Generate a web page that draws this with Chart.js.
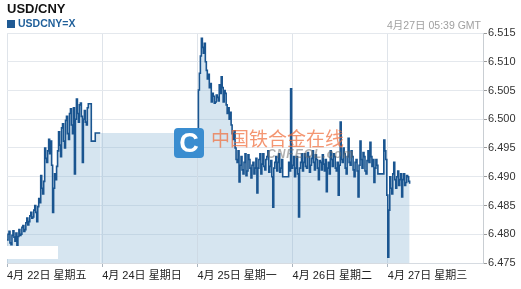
<!DOCTYPE html>
<html>
<head>
<meta charset="utf-8">
<script src="https://cdn.jsdelivr.net/npm/chart.js@4"></script>
<style>
  body { margin: 0; background: #fff; }
  #wrap { position: relative; width: 521px; height: 289px; font-family: "Liberation Sans", Arial, sans-serif; }
  #title { position: absolute; left: 7px; top: 1px; font-size: 13px; font-weight: bold; color: #111; }
  #legend { position: absolute; left: 7px; top: 17px; font-size: 10.5px; font-weight: bold; color: #1f5f9a; }
  #legend span { display: inline-block; width: 8px; height: 8px; background: #1f5a94; margin-right: 3px; vertical-align: -1px; }
  #stamp { position: absolute; right: 40px; top: 17px; font-size: 10.5px; color: #a0a0a0; font-family: "Liberation Sans", "Noto Sans CJK SC", sans-serif; }
  .wm { position: absolute; pointer-events: none; }
  #logo { left: 174px; top: 128px; width: 30px; height: 30px; border-radius: 4px; background: #3a8dd0; color: #fff;
          font: bold 27px "Liberation Sans", Arial, sans-serif; text-align: center; line-height: 30px; }
  #wmText { left: 211px; top: 124px; font: 19px "Noto Sans CJK SC", sans-serif; color: rgba(240,110,60,0.72); }
  #wmSub { left: 267px; top: 147px; font: italic bold 12px "Liberation Sans", Arial, sans-serif; color: rgba(110,110,110,0.55); letter-spacing: 1px; }
  #blot { left: 7px; top: 246px; width: 51px; height: 13px; background: #fff; }
</style>
</head>
<body>
<div id="wrap">
  <canvas id="fxChart" width="521" height="289"></canvas>
  <div id="title">USD/CNY</div>
  <div id="legend"><span></span>USDCNY=X</div>
  <div id="stamp">4月27日 05:39 GMT</div>
  <div class="wm" id="logo">C</div>
  <div class="wm" id="wmText">中国铁合金在线</div>
  <div class="wm" id="wmSub">CNFEOL.com</div>
  <div class="wm" id="blot"></div>
</div>
<script>
// quotes sampled every quarter hour, one array per trading day
const stepHours = 0.25;
const dayStarts = [0, 48, 72, 96];

const friday = [
  6.4790, 6.4800, 6.4805, 6.4785, 6.4782, 6.4798, 6.4806, 6.4795, 6.4788, 6.4802,
  6.4778, 6.4796, 6.4808, 6.4798, 6.4800, 6.4812, 6.4815, 6.4805, 6.4808, 6.4820,
  6.4828, 6.4816, 6.4822, 6.4832, 6.4838, 6.4828, 6.4830, 6.4842, 6.4850, 6.4838,
  6.4822, 6.4848, 6.4862, 6.4855, 6.4902, 6.4880, 6.4870, 6.4892, 6.4950, 6.4932,
  6.4925, 6.4945, 6.4965, 6.4940, 6.4962, 6.4920, 6.4838, 6.4880, 6.4905, 6.4895,
  6.4918, 6.4945, 6.4978, 6.4955, 6.4935, 6.4985, 6.4992, 6.4962, 6.4950, 6.4998,
  6.5005, 6.4975, 6.4965, 6.5010, 6.5018, 6.4990, 6.4975, 6.5020, 6.4905, 6.5000,
  6.5035, 6.5010, 6.4995, 6.5025, 6.5028, 6.5005, 6.4925, 6.5000, 6.5015, 6.4995,
  6.4990, 6.5020, 6.5027, 6.5027, 6.5027, 6.4962, 6.4962, 6.4962, 6.4962, 6.4976,
  6.4976, 6.4976, 6.4976, 6.4976, 6.4976
];
const monday = [
  6.4976, 6.5051, 6.5080, 6.5110, 6.5141, 6.5125, 6.5115, 6.5132, 6.5100, 6.5085,
  6.5070, 6.5078, 6.5055, 6.5062, 6.5030, 6.5045, 6.5040, 6.5028, 6.5030, 6.5042,
  6.5038, 6.5032, 6.5060, 6.5045, 6.5074, 6.5055, 6.5030, 6.5050, 6.5045, 6.5025,
  6.5010, 6.5020, 6.5000, 6.5012, 6.4990, 6.4975, 6.4965, 6.4980, 6.4950, 6.4930,
  6.4925, 6.4945, 6.4891, 6.4920, 6.4935, 6.4912, 6.4905, 6.4925, 6.4940, 6.4902,
  6.4910, 6.4938, 6.4930, 6.4915, 6.4898, 6.4920, 6.4925, 6.4905, 6.4915, 6.4932,
  6.4872, 6.4915, 6.4930, 6.4940, 6.4905, 6.4922, 6.4940, 6.4918, 6.4912, 6.4930,
  6.4935, 6.4945, 6.4908, 6.4918, 6.4928, 6.4900, 6.4847, 6.4915, 6.4925, 6.4935,
  6.4910, 6.4925, 6.4940, 6.4908, 6.4915, 6.4930, 6.4900, 6.4900, 6.4900, 6.4900,
  6.4900, 6.4900, 6.4925, 6.4910, 6.5053, 6.4915
];
const tuesday = [
  6.4920, 6.4935, 6.4900, 6.4915, 6.4935, 6.4905, 6.4830, 6.4915, 6.4925, 6.4940,
  6.4910, 6.4925, 6.4940, 6.4918, 6.4915, 6.4942, 6.4935, 6.4908, 6.4920, 6.4932,
  6.4945, 6.4925, 6.4912, 6.4938, 6.4930, 6.4915, 6.4895, 6.4928, 6.4925, 6.4912,
  6.4938, 6.4922, 6.4910, 6.4930, 6.4874, 6.4915, 6.4925, 6.4905, 6.4945, 6.4930,
  6.4918, 6.4940, 6.4935, 6.4915, 6.4910, 6.4925, 6.4868, 6.4920, 6.4995, 6.4930,
  6.4925, 6.4950, 6.4940, 6.4915, 6.4905, 6.4935, 6.4967, 6.4925, 6.4920, 6.4945,
  6.4935, 6.4912, 6.4900, 6.4925, 6.4930, 6.4910, 6.4865, 6.4920, 6.4962, 6.4930,
  6.4915, 6.4942, 6.4935, 6.4910, 6.4905, 6.4928, 6.4945, 6.4925, 6.4960, 6.4935,
  6.4918, 6.4930, 6.4890, 6.4915, 6.4930, 6.4920, 6.4905, 6.4905, 6.4905, 6.4905,
  6.4905, 6.4905, 6.4964, 6.4945, 6.4930, 6.4868
];
const wednesday = [
  6.4760, 6.4842, 6.4900, 6.4880, 6.4870, 6.4905, 6.4925, 6.4895, 6.4880, 6.4900,
  6.4910, 6.4885, 6.4895, 6.4905, 6.4865, 6.4895, 6.4905, 6.4885, 6.4890, 6.4902,
  6.4900, 6.4892, 6.4888
];

const tickHours = [0, 24, 48, 72, 96];
const tickLabels = ['4月 22日 星期五', '4月 24日 星期日', '4月 25日 星期一', '4月 26日 星期二', '4月 27日 星期三'];
const yTicks = [6.475, 6.480, 6.485, 6.490, 6.495, 6.500, 6.505, 6.510, 6.515];

const points = [];
[friday, monday, tuesday, wednesday].forEach((day, d) => {
  day.forEach((v, i) => points.push({ x: dayStarts[d] + i * stepHours, y: v }));
});
const gapIndex = friday.length; // first monday point, weekend is not stroked

const ctx = document.getElementById('fxChart').getContext('2d');
new Chart(ctx, {
  type: 'line',
  data: {
    datasets: [{
      label: 'USDCNY=X',
      data: points,
      borderColor: '#1a5590',
      borderWidth: 1.6,
      backgroundColor: 'rgba(138,181,212,0.35)',
      fill: 'start',
      stepped: true,
      pointRadius: 0,
      segment: {
        borderColor: c => c.p1DataIndex === gapIndex ? 'rgba(0,0,0,0)' : undefined
      }
    }]
  },
  options: {
    responsive: false,
    animation: false,
    layout: { padding: { left: 7, top: 33, right: 0, bottom: 0 } },
    plugins: { legend: { display: false }, tooltip: { enabled: false } },
    scales: {
      x: {
        type: 'linear',
        min: 0,
        max: 120,
        afterBuildTicks: s => { s.ticks = tickHours.map(v => ({ value: v })); },
        afterFit: s => { s.height = 26; },
        grid: { color: '#dfe4ea', tickColor: '#aab4be', tickLength: 4 },
        border: { color: '#d6dbe1' },
        ticks: {
          align: 'start',
          padding: 2,
          maxRotation: 0,
          autoSkip: false,
          color: '#222',
          font: { size: 11, family: '"Liberation Sans", "Noto Sans CJK SC", sans-serif' },
          callback: (v, i) => tickLabels[i]
        }
      },
      y: {
        position: 'right',
        min: 6.475,
        max: 6.515,
        afterBuildTicks: s => { s.ticks = yTicks.map(v => ({ value: v })); },
        afterFit: s => { s.width = 38; },
        grid: { color: '#e4e8ed', tickColor: '#999', tickLength: 4 },
        border: { color: '#c9ced3' },
        ticks: {
          padding: 1,
          color: '#333',
          font: { size: 11, family: '"Liberation Sans", Arial, sans-serif' },
          callback: v => v.toFixed(3)
        }
      }
    }
  }
});
</script>
</body>
</html>
